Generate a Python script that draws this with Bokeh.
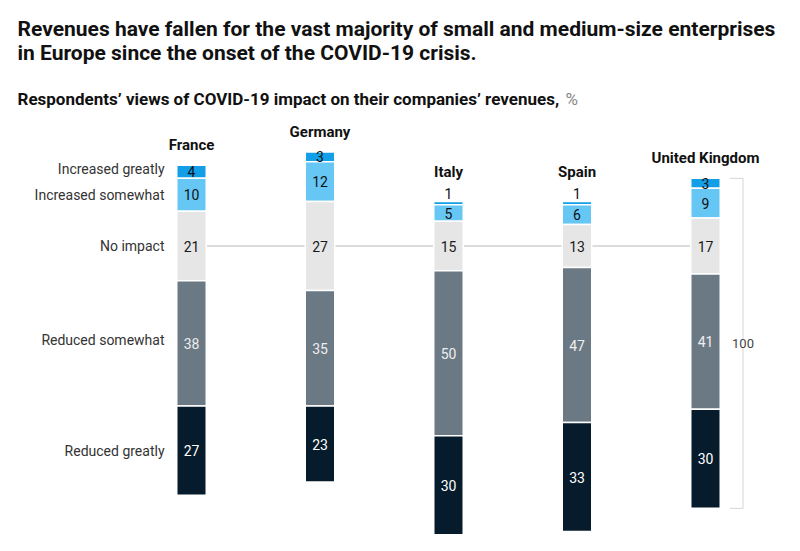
from bokeh.plotting import figure
from bokeh.models import ColumnDataSource, Range1d, Label
from bokeh.core.properties import value
from bokeh.embed import file_html
from bokeh.resources import INLINE

# ---------------- data ----------------
countries = ["France", "Germany", "Italy", "Spain", "United Kingdom"]
categories = ["Increased greatly", "Increased somewhat", "No impact",
              "Reduced somewhat", "Reduced greatly"]
increased_greatly = [4, 3, 1, 1, 3]
increased_somewhat = [10, 12, 5, 6, 9]
no_impact = [21, 27, 15, 13, 17]
reduced_somewhat = [38, 35, 50, 47, 41]
reduced_greatly = [27, 23, 30, 33, 30]

title_lines = ["Revenues have fallen for the vast majority of small and medium-size enterprises",
               "in Europe since the onset of the COVID-19 crisis."]
subtitle = "Respondents\u2019 views of COVID-19 impact on their companies\u2019 revenues,"
subtitle_unit = "%"

# ---------------- layout ----------------
W, H = 784, 535
PX_X = 128.5      # px between bar centres
X0 = 191.0        # px of first bar centre
PX_Y = 3.3        # px per percentage point
Y0 = 245.5        # px from top of the "No impact" centre line
FONT = "Roboto"

colors = ["#129fe7", "#66c7f5", "#e6e6e6", "#6b7984", "#061b2c"]
label_colors = ["#111111", "#111111", "#1a1a1a", "#eeeeee", "#ffffff"]

p = figure(width=W, height=H, output_backend="svg", toolbar_location=None,
           x_range=Range1d(-X0 / PX_X, (W - X0) / PX_X),
           y_range=Range1d(-(H - Y0) / PX_Y, Y0 / PX_Y),
           x_axis_type=None, y_axis_type=None, min_border=0)
p.grid.visible = False
p.outline_line_color = None
p.background_fill_color = "white"
p.border_fill_color = "white"

n = len(countries)
xs = list(range(n))

# no-impact reference line (behind bars)
p.line(x=[xs[0], xs[-1]], y=[0, 0], line_color="#b8b8b8", line_width=1)

# stacked segments centred on the middle of "No impact"
series = [increased_greatly, increased_somewhat, no_impact, reduced_somewhat, reduced_greatly]
bottoms = {k: [] for k in range(5)}
tops = {k: [] for k in range(5)}
for i in range(n):
    half = no_impact[i] / 2
    bottoms[2].append(-half); tops[2].append(half)
    bottoms[1].append(half); tops[1].append(half + increased_somewhat[i])
    bottoms[0].append(tops[1][i]); tops[0].append(tops[1][i] + increased_greatly[i])
    tops[3].append(-half); bottoms[3].append(-half - reduced_somewhat[i])
    tops[4].append(bottoms[3][i]); bottoms[4].append(bottoms[3][i] - reduced_greatly[i])

bar_w = 29.5 / PX_X
for k in range(5):
    src = ColumnDataSource(dict(x=xs, top=tops[k], bottom=bottoms[k]))
    p.vbar(x="x", top="top", bottom="bottom", width=bar_w, source=src,
           fill_color=colors[k], line_color="white", line_width=1.5)

# value labels
for k in range(5):
    lx, ly, lt = [], [], []
    for i in range(n):
        v = series[k][i]
        lx.append(xs[i])
        if k == 0 and v <= 1:
            ly.append(tops[0][i] + 8 / PX_Y)
        else:
            ly.append((tops[k][i] + bottoms[k][i]) / 2)
        lt.append(str(v))
    src = ColumnDataSource(dict(x=lx, y=ly, t=lt))
    p.text(x="x", y="y", text="t", source=src, text_align="center",
           text_baseline="middle", text_font=value(FONT), text_font_size="14px",
           text_color=label_colors[k])

# country names above bars
cy = []
for i in range(n):
    if increased_greatly[i] <= 1:
        cy.append(tops[0][i] + 29 / PX_Y)
    else:
        cy.append(tops[0][i] + 20 / PX_Y)
src = ColumnDataSource(dict(x=xs, y=cy, t=countries))
p.text(x="x", y="y", text="t", source=src, text_align="center",
       text_baseline="middle", text_font=value(FONT), text_font_size="15px",
       text_font_style="bold", text_color="#111111")

# row (category) labels to the left of the first bar
row_x = [xs[0] - 27 / PX_X] * 5
row_y = [(tops[k][0] + bottoms[k][0]) / 2 for k in range(5)]
row_y[0] += 3 / PX_Y
row_y[3] += 3 / PX_Y
src = ColumnDataSource(dict(x=row_x, y=row_y, t=categories))
p.text(x="x", y="y", text="t", source=src, text_align="right",
       text_baseline="middle", text_font=value(FONT), text_font_size="14px",
       text_color="#333333")

# bracket showing the 100% total on the last bar
last = n - 1
bx = xs[last] + 37.5 / PX_X
tick_x0 = xs[last] + 24.5 / PX_X
b_top = tops[0][last]
b_bot = bottoms[4][last]
p.segment(x0=[bx, tick_x0, tick_x0], y0=[b_top, b_top, b_bot],
          x1=[bx, bx, bx], y1=[b_bot, b_top, b_bot],
          line_color="#d4d4d4", line_width=1)
total = sum(s[last] for s in series)
p.add_layout(Label(x=bx, y=(b_top + b_bot) / 2, text=str(total),
                   text_align="center", text_baseline="middle",
                   text_font=FONT, text_font_size="13px", text_color="#444444",
                   background_fill_color="white"))

# titles (screen units, measured from bottom)
p.add_layout(Label(x=17, y=H - 28.5, x_units="screen", y_units="screen",
                   text=title_lines[0], text_font=FONT, text_font_size="21px",
                   text_font_style="bold", text_color="#111111",
                   text_baseline="alphabetic"))
p.add_layout(Label(x=17, y=H - 52, x_units="screen", y_units="screen",
                   text=title_lines[1], text_font=FONT, text_font_size="21px",
                   text_font_style="bold", text_color="#111111",
                   text_baseline="alphabetic"))
p.add_layout(Label(x=17, y=H - 98, x_units="screen", y_units="screen",
                   text=subtitle, text_font=FONT, text_font_size="17px",
                   text_font_style="bold", text_color="#111111",
                   text_baseline="alphabetic"))
p.add_layout(Label(x=565, y=H - 98, x_units="screen", y_units="screen",
                   text=subtitle_unit, text_font=FONT, text_font_size="17px",
                   text_color="#888888", text_baseline="alphabetic"))

open("out.html", "w").write(file_html(p, INLINE))
